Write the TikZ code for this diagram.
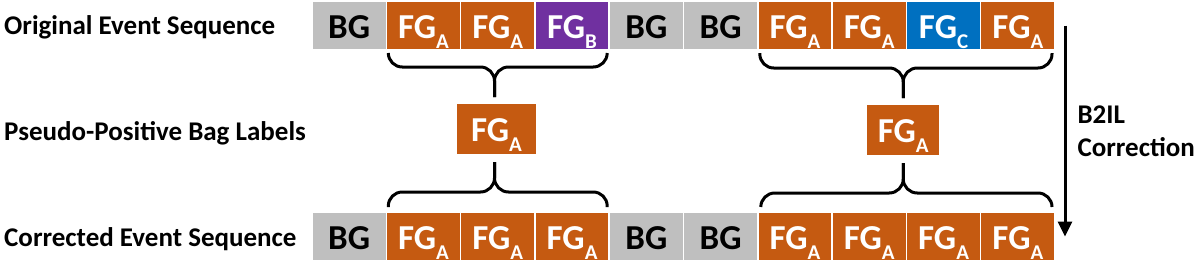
\documentclass[tikz,border=0pt]{standalone}
\usepackage{fontspec}
\setmainfont{Carlito}
\usepackage{xcolor}
\usetikzlibrary{positioning, calc, arrows.meta}
\definecolor{bggray}{HTML}{BFBFBF}
\definecolor{fgorange}{HTML}{C55A11}
\definecolor{fgpurple}{HTML}{7030A0}
\definecolor{fgblue}{HTML}{0070C0}
\newcommand{\fgsub}[1]{FG\raisebox{-10pt}{\fontsize{21}{21}\selectfont #1}}
\tikzstyle{cell} = [rectangle, minimum width=74.3pt, minimum height=49pt, inner sep=0pt, outer sep=0pt, draw=white, line width=1.5pt, text height=25pt, text depth=0pt, font=\fontsize{35}{35}\selectfont\bfseries]
\tikzstyle{bgcell} = [cell, fill=bggray, text=black]
\tikzstyle{fgcell} = [cell, fill=fgorange, text=white]
\tikzstyle{bagbox} = [fgcell, draw=none, minimum height=50pt]
\tikzstyle{rowtext} = [anchor=base west, inner sep=0pt, font=\fontsize{27}{27}\selectfont\bfseries]
\tikzstyle{bracket} = [line width=3pt, rounded corners=14pt]
\tikzstyle{arrow} = [line width=3pt, -{Triangle[length=15pt,width=14pt]}]

\begin{document}
\begin{tikzpicture}[x=1pt, y=1pt]
        \useasboundingbox (0,0) rectangle (1196,-263);
        % row labels
        \node (t1) [rowtext] at (4,-34) {Original Event Sequence};
        \node (t2) [rowtext] at (4,-140) {Pseudo-Positive Bag Labels};
        \node (t3) [rowtext] at (4,-246) {Corrected Event Sequence};

        % original event sequence
        \node (o1) [bgcell] at (349.15,-25.5) {BG};
        \node (o2) [fgcell, right=0pt of o1] {\fgsub{A}};
        \node (o3) [fgcell, right=0pt of o2] {\fgsub{A}};
        \node (o4) [fgcell, fill=fgpurple, right=0pt of o3] {\fgsub{B}};
        \node (o5) [bgcell, right=0pt of o4] {BG};
        \node (o6) [bgcell, right=0pt of o5] {BG};
        \node (o7) [fgcell, right=0pt of o6] {\fgsub{A}};
        \node (o8) [fgcell, right=0pt of o7] {\fgsub{A}};
        \node (o9) [fgcell, fill=fgblue, right=0pt of o8] {\fgsub{C}};
        \node (o10) [fgcell, right=0pt of o9] {\fgsub{A}};

        % pseudo-positive bag labels
        \node (l1) [bagbox, minimum width=79pt, below=54pt of o3, xshift=-1.25pt] {\fgsub{A}};
        \node (l2) [bagbox, minimum width=72pt, below=55pt of o8, xshift=34pt] {\fgsub{A}};

        % corrected event sequence
        \node (c1) [bgcell, below=162pt of o1] {BG};
        \node (c2) [fgcell, right=0pt of c1] {\fgsub{A}};
        \node (c3) [fgcell, right=0pt of c2] {\fgsub{A}};
        \node (c4) [fgcell, right=0pt of c3] {\fgsub{A}};
        \node (c5) [bgcell, right=0pt of c4] {BG};
        \node (c6) [bgcell, right=0pt of c5] {BG};
        \node (c7) [fgcell, right=0pt of c6] {\fgsub{A}};
        \node (c8) [fgcell, right=0pt of c7] {\fgsub{A}};
        \node (c9) [fgcell, right=0pt of c8] {\fgsub{A}};
        \node (c10) [fgcell, right=0pt of c9] {\fgsub{A}};

        % braces
        \draw [bracket] ($(o2.south west)+(2,-3)$) |- ($(l1.north)+(-2,37)$) -- ($(l1.north)+(-2,7)$);
        \draw [bracket] ($(o4.south east)+(-2,-3)$) |- ($(l1.north)+(-2,37)$) -- ($(l1.north)+(-2,7)$);
        \draw [bracket] ($(o7.south west)+(2,-3)$) |- ($(l2.north)+(0,37)$) -- ($(l2.north)+(0,7)$);
        \draw [bracket] ($(o10.south east)+(-3,-3)$) |- ($(l2.north)+(0,37)$) -- ($(l2.north)+(0,7)$);
        \draw [bracket] ($(c2.north west)+(2,5)$) |- ($(l1.south)+(-2,-38)$) -- ($(l1.south)+(-2,-8)$);
        \draw [bracket] ($(c4.north east)+(-2,5)$) |- ($(l1.south)+(-2,-38)$) -- ($(l1.south)+(-2,-8)$);
        \draw [bracket] ($(c7.north west)+(3,5)$) |- ($(l2.south)+(0,-38)$) -- ($(l2.south)+(0,-8)$);
        \draw [bracket] ($(c10.north east)+(-3,5)$) |- ($(l2.south)+(0,-38)$) -- ($(l2.south)+(0,-8)$);

        \draw [arrow] ($(o10.east)+(10,0)$) -- node (corr) [midway, anchor=west, align=left, inner sep=0pt, xshift=11pt, font=\fontsize{27}{33}\selectfont\bfseries] {B2IL\\Correction} ($(c10.east)+(10,0)$);
    \end{tikzpicture}
\end{document}
